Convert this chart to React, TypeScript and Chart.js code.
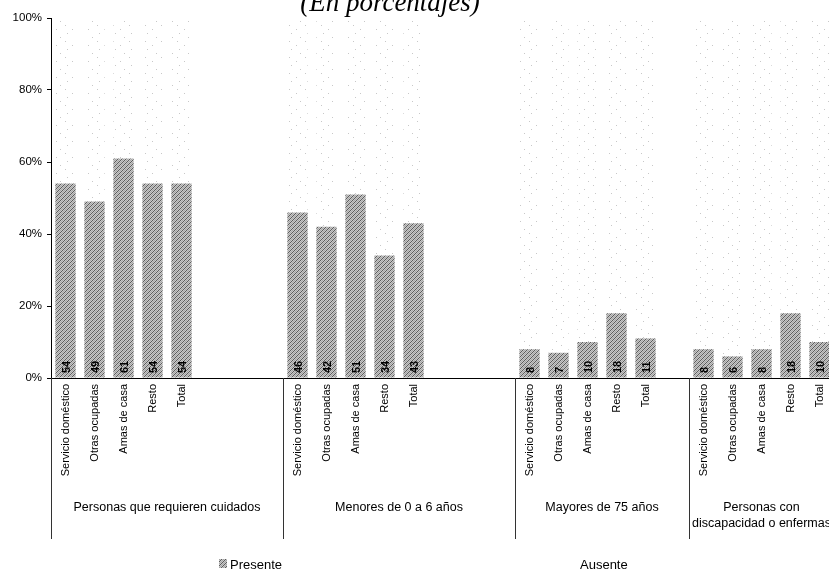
import React, { useEffect, useRef } from "react";
import { Chart, registerables } from "chart.js";

Chart.register(...registerables);

// ---- data ----
const subCategories = ["Servicio doméstico", "Otras ocupadas", "Amas de casa", "Resto", "Total"];
const groupNames = [
  ["Personas que requieren cuidados"],
  ["Menores de 0 a 6 años"],
  ["Mayores de 75 años"],
  ["Personas con", "discapacidad o enfermas"],
];
const presenteCuidados = [54, 49, 61, 54, 54];
const presenteMenores = [46, 42, 51, 34, 43];
const presenteMayores = [8, 7, 10, 18, 11];
const presenteDiscapacidad = [8, 6, 8, 18, 10];
const emptySlotsAfter = [3, 3, 1, 0];
const seriesNames = ["Presente", "Ausente"];
const yMax = 100;
const yStep = 20;
const titleText = "(En porcentajes)";

// ---- build tables from the arrays ----
const groupValues = [presenteCuidados, presenteMenores, presenteMayores, presenteDiscapacidad];
const labels: string[] = [];
const presente: (number | null)[] = [];
const ausente: (number | null)[] = [];
const groupRanges: { start: number; end: number }[] = [];
groupValues.forEach((vals, g) => {
  const start = labels.length;
  vals.forEach((v, i) => {
    labels.push(subCategories[i]);
    presente.push(v);
    ausente.push(yMax - v);
  });
  for (let k = 0; k < emptySlotsAfter[g]; k++) {
    labels.push("");
    presente.push(null);
    ausente.push(null);
  }
  groupRanges.push({ start, end: labels.length - 1 });
});

const FONT = "'Liberation Sans', Arial, sans-serif";

function makePattern(size: number, cells: string[][]): CanvasPattern | string {
  const c = document.createElement("canvas");
  c.width = size;
  c.height = size;
  const x = c.getContext("2d")!;
  for (let r = 0; r < size; r++) {
    for (let col = 0; col < size; col++) {
      x.fillStyle = cells[r][col];
      x.fillRect(col, r, 1, 1);
    }
  }
  const ctx = document.createElement("canvas").getContext("2d")!;
  return ctx.createPattern(c, "repeat") || "#aaa";
}

export default function App() {
  const ref = useRef<HTMLCanvasElement>(null);

  useEffect(() => {
    const canvas = ref.current!;
    const D = "#5c5c5c", M = "#a4a4a4", L = "#c8c8c8";
    const presPattern = makePattern(4, [
      [D, L, M, L],
      [L, M, L, D],
      [M, L, D, L],
      [L, D, L, M],
    ]);
    const W = "#ffffff", G = "#c8c8c8";
    const ausRows: string[][] = [];
    for (let r = 0; r < 16; r++) {
      const row: string[] = [];
      for (let c = 0; c < 16; c++) row.push(W);
      ausRows.push(row);
    }
    ausRows[1][3] = G; ausRows[5][12] = G; ausRows[9][1] = G; ausRows[13][8] = G;
    const ausPattern = makePattern(16, ausRows);

    const overlay = {
      id: "overlay",
      afterDatasetsDraw(chart: any) {
        const ctx = chart.ctx;
        const meta = chart.getDatasetMeta(0);
        ctx.save();
        ctx.fillStyle = "#000";
        ctx.font = `bold 11px ${FONT}`;
        ctx.textAlign = "left";
        ctx.textBaseline = "middle";
        meta.data.forEach((bar: any, i: number) => {
          const v = presente[i];
          if (v === null) return;
          ctx.save();
          ctx.translate(bar.x, chart.chartArea.bottom - 5);
          ctx.rotate(-Math.PI / 2);
          ctx.fillText(String(Math.round(v)), 0, 1);
          ctx.restore();
        });
        ctx.restore();
      },
      afterDraw(chart: any) {
        const ctx = chart.ctx;
        const xs = chart.scales.x;
        const area = chart.chartArea;
        const pitch = xs.getPixelForValue(1) - xs.getPixelForValue(0);
        ctx.save();
        // title
        ctx.fillStyle = "#000";
        ctx.font = `italic 27px 'Liberation Serif', 'Times New Roman', serif`;
        ctx.textAlign = "center";
        ctx.textBaseline = "alphabetic";
        ctx.fillText(titleText, 390, 11);
        // group separators and labels
        ctx.strokeStyle = "#333";
        ctx.lineWidth = 1;
        ctx.font = `12.5px ${FONT}`;
        ctx.textAlign = "center";
        ctx.textBaseline = "middle";
        groupRanges.forEach((gr, g) => {
          const x0 = xs.getPixelForValue(gr.start) - pitch / 2;
          const x1 = xs.getPixelForValue(gr.end) + pitch / 2;
          const sx = Math.round(x0) + 0.5;
          ctx.beginPath();
          ctx.moveTo(sx, area.bottom);
          ctx.lineTo(sx, 539);
          ctx.stroke();
          const cx = (x0 + x1) / 2;
          groupNames[g].forEach((line, li) => {
            ctx.fillText(line, cx, 508 + li * 16);
          });
        });
        // legend
        ctx.font = `13px ${FONT}`;
        ctx.textAlign = "left";
        ctx.fillStyle = presPattern as any;
        ctx.fillRect(219, 559, 8, 9);
        ctx.fillStyle = "#000";
        ctx.fillText(seriesNames[0], 230, 565);
        ctx.fillText(seriesNames[1], 580, 565);
        ctx.restore();
      },
    };

    const chart = new Chart(canvas, {
      type: "bar",
      data: {
        labels,
        datasets: [
          {
            label: seriesNames[0],
            data: presente,
            backgroundColor: presPattern as any,
            borderWidth: 0,
            barPercentage: 0.7,
            categoryPercentage: 1,
          },
          {
            label: seriesNames[1],
            data: ausente,
            backgroundColor: ausPattern as any,
            borderWidth: 0,
            barPercentage: 0.7,
            categoryPercentage: 1,
          },
        ],
      },
      options: {
        responsive: false,
        animation: false,
        devicePixelRatio: 1,
        layout: { padding: { top: 18, left: 0, right: 11, bottom: 0 } },
        plugins: {
          legend: { display: false },
          tooltip: { enabled: false },
          title: { display: false },
        },
        scales: {
          x: {
            stacked: true,
            grid: { display: false },
            border: { display: true, color: "#000", width: 1 },
            ticks: {
              autoSkip: false,
              maxRotation: 90,
              minRotation: 90,
              padding: -2,
              color: "#000",
              font: { size: 11, family: FONT },
            },
            afterFit: (s: any) => {
              s.height = 571 - 378;
            },
          },
          y: {
            stacked: true,
            min: 0,
            max: yMax,
            grid: { drawOnChartArea: false, drawTicks: true, tickLength: 4, color: "#000" },
            border: { display: true, color: "#000", width: 1 },
            ticks: {
              stepSize: yStep,
              padding: 5,
              color: "#000",
              font: { size: 11.5, family: FONT },
              callback: (v: any) => `${v}%`,
            },
            afterFit: (s: any) => {
              s.width = 51;
            },
          },
        },
      },
      plugins: [overlay],
    });
    return () => chart.destroy();
  }, []);

  return (
    <div
      style={{
        position: "fixed",
        left: 0,
        top: 0,
        width: 829,
        height: 571,
        overflow: "hidden",
        background: "#fff",
      }}
    >
      <canvas ref={ref} width={845} height={571} style={{ display: "block", width: 845, height: 571 }} />
    </div>
  );
}
